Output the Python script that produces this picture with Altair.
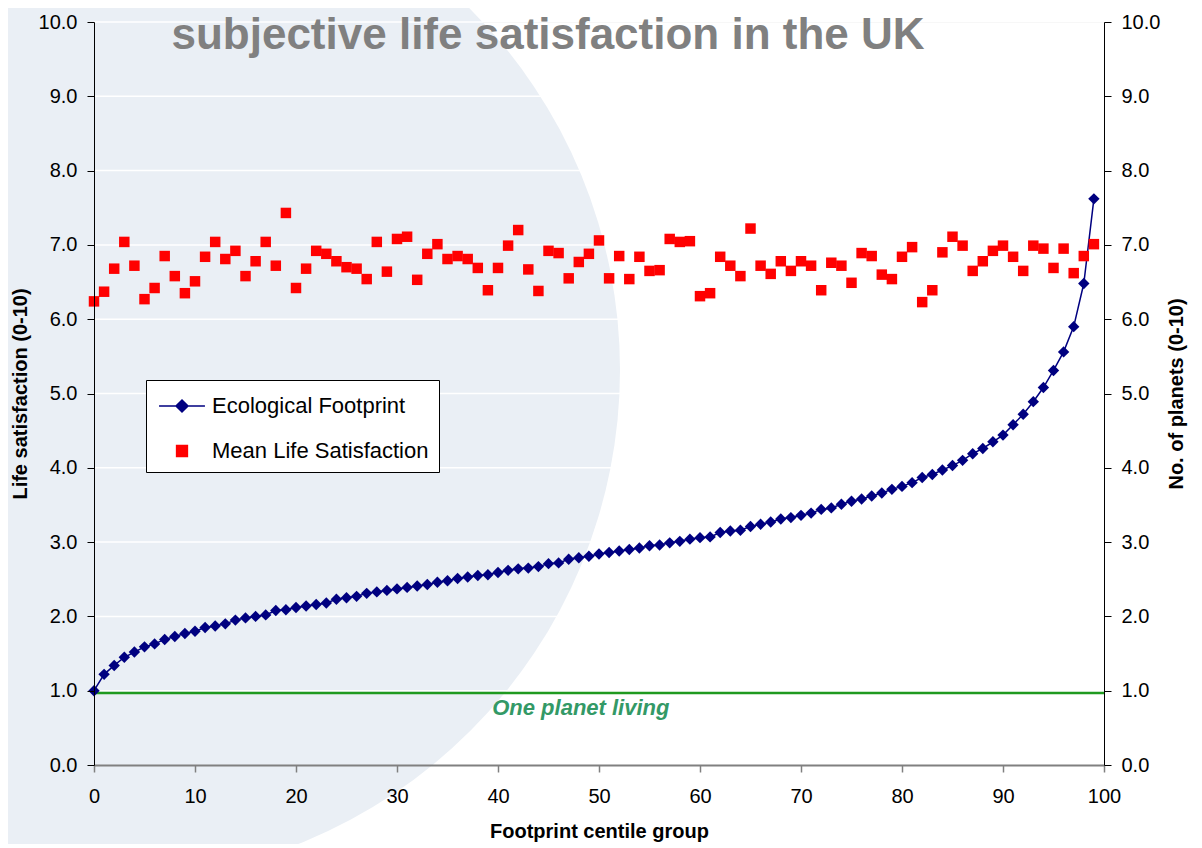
import altair as alt
import pandas as pd

# ---------------- data ----------------
centile = list(range(100))

life_satisfaction = [
    6.24, 6.37, 6.68, 7.04, 6.72, 6.27, 6.42, 6.85, 6.58, 6.35,
    6.51, 6.84, 7.04, 6.81, 6.92, 6.58, 6.78, 7.04, 6.72, 7.43,
    6.42, 6.68, 6.92, 6.88, 6.78, 6.70, 6.68, 6.54, 7.04, 6.64,
    7.08, 7.11, 6.53, 6.88, 7.01, 6.81, 6.85, 6.81, 6.69, 6.39,
    6.69, 6.99, 7.20, 6.67, 6.38, 6.92, 6.89, 6.55, 6.77, 6.88,
    7.06, 6.55, 6.85, 6.54, 6.84, 6.65, 6.66, 7.08, 7.04, 7.05,
    6.31, 6.35, 6.84, 6.72, 6.58, 7.22, 6.72, 6.61, 6.78, 6.65,
    6.78, 6.72, 6.39, 6.76, 6.72, 6.49, 6.89, 6.85, 6.60, 6.54,
    6.84, 6.97, 6.23, 6.39, 6.90, 7.11, 6.99, 6.65, 6.78, 6.92,
    6.99, 6.84, 6.65, 6.99, 6.95, 6.69, 6.95, 6.62, 6.85, 7.01,
]

ecological_footprint = [
    1.00, 1.22, 1.34, 1.45, 1.52, 1.59, 1.63, 1.69, 1.73, 1.77,
    1.80, 1.85, 1.87, 1.90, 1.95, 1.98, 2.00, 2.02, 2.08, 2.09,
    2.12, 2.14, 2.16, 2.18, 2.23, 2.25, 2.27, 2.31, 2.33, 2.35,
    2.37, 2.39, 2.41, 2.43, 2.46, 2.48, 2.51, 2.53, 2.55, 2.56,
    2.59, 2.62, 2.64, 2.65, 2.67, 2.71, 2.72, 2.77, 2.79, 2.81,
    2.84, 2.86, 2.88, 2.90, 2.92, 2.95, 2.96, 2.99, 3.01, 3.04,
    3.06, 3.07, 3.13, 3.15, 3.16, 3.21, 3.24, 3.27, 3.31, 3.33,
    3.36, 3.39, 3.44, 3.46, 3.51, 3.55, 3.58, 3.62, 3.66, 3.71,
    3.75, 3.80, 3.87, 3.91, 3.97, 4.03, 4.10, 4.19, 4.26, 4.35,
    4.44, 4.58, 4.72, 4.89, 5.08, 5.31, 5.56, 5.90, 6.48, 7.62,
]

y_ticks = [0, 1, 2, 3, 4, 5, 6, 7, 8, 9, 10]
grid_levels = [1, 2, 3, 4, 5, 6, 7, 8, 9, 10]
x_ticks = [0, 10, 20, 30, 40, 50, 60, 70, 80, 90, 100]

one_planet_level = [0.97]
annotation_x = [48.2]
annotation_y = [0.77]
annotation_text = ["One planet living"]

chart_title = ["subjective life satisfaction in the UK"]

series_names = ["Ecological Footprint", "Mean Life Satisfaction"]
series_colors = ["#000080", "#FF0000"]

# ---------------- styling ----------------
FONT = "Liberation Sans"
W, H = 1010, 743
NAVY = "#000080"
RED = "#FF0000"
SHADE = "#EAEFF5"

LINE_DIAMOND = "M-1.53,0L1.53,0M0,-0.4L0.4,0L0,0.4L-0.4,0Z"
SQUARE = "M-0.36,-0.36L0.36,-0.36L0.36,0.36L-0.36,0.36Z"

df = pd.DataFrame({"centile": centile, "sat": life_satisfaction, "fp": ecological_footprint})

xscale = alt.Scale(domain=[0, 100], nice=False, zero=True)


def yscale():
    return alt.Scale(domain=[0, 10], nice=False, zero=True)


x_axis = alt.Axis(
    values=x_ticks, title="Footprint centile group", grid=False, zindex=1,
    labelFont=FONT, labelFontSize=20, labelColor="black", labelFlush=False,
    titleFont=FONT, titleFontSize=20, titleFontWeight="bold", titleColor="black",
    domainColor="#808080", domainWidth=2, tickColor="#808080", tickWidth=1.5,
    tickSize=7, labelPadding=14, titlePadding=15,
)


def y_axis(orient, title, title_pad, angle):
    return alt.Axis(
        orient=orient, values=y_ticks, format=".1f", title=title, grid=False, zindex=1,
        labelFont=FONT, labelFontSize=20, labelColor="black",
        titleFont=FONT, titleFontSize=20, titleFontWeight="bold", titleColor="black",
        titleAngle=angle,
        domainColor="black", domainWidth=1, tickColor="black", tickWidth=1,
        tickSize=7, labelPadding=10, titlePadding=title_pad,
    )


# decorative background disc
shade = alt.Chart(alt.Data(values=[{"k": 1}])).mark_point(
    shape="circle", filled=True, size=1040400, color=SHADE, opacity=1, strokeWidth=0
).encode(x=alt.value(16), y=alt.value(348))

grid = alt.Chart(pd.DataFrame({"level": grid_levels})).mark_rule(
    color="white", strokeWidth=1.5
).encode(y=alt.Y("level:Q", scale=yscale(), axis=None))

green = alt.Chart(pd.DataFrame({"level": one_planet_level})).mark_rule(
    color="#1F9A1F", strokeWidth=2.5
).encode(y=alt.Y("level:Q", scale=yscale(), axis=None))

annot = alt.Chart(
    pd.DataFrame({"x": annotation_x, "y": annotation_y, "t": annotation_text})
).mark_text(
    font=FONT, fontSize=22, fontWeight="bold", fontStyle="italic",
    color="#339966", align="center", baseline="middle"
).encode(
    x=alt.X("x:Q", scale=xscale, axis=x_axis),
    y=alt.Y("y:Q", scale=yscale(), axis=None),
    text="t:N",
)

title_layer = alt.Chart(pd.DataFrame({"t": chart_title})).mark_text(
    font=FONT, fontSize=44, fontWeight="bold", color="#808080",
    align="center", baseline="alphabetic"
).encode(x=alt.value(454), y=alt.value(27), text="t:N")

blue = alt.Chart(df).mark_line(
    color=NAVY, strokeWidth=1.5,
    point=alt.OverlayMarkDef(shape="diamond", size=130, filled=True, color=NAVY, opacity=1),
).encode(
    x=alt.X("centile:Q", scale=xscale, axis=x_axis),
    y=alt.Y("fp:Q", scale=yscale(),
            axis=y_axis("right", "No. of planets (0-10)", 27, 270)),
)

red = alt.Chart(df).mark_square(size=110, color=RED, opacity=1).encode(
    x=alt.X("centile:Q", scale=xscale, axis=x_axis),
    y=alt.Y("sat:Q", scale=yscale(),
            axis=y_axis("left", "Life satisfaction (0-10)", 8, 270)),
)

leg_def = alt.Legend(
    title=None, orient="none", legendX=52, legendY=358,
    fillColor="white", strokeColor="black", padding=10,
    labelFont=FONT, labelFontSize=22, labelColor="black", labelLimit=400,
    symbolSize=900, symbolStrokeWidth=1.5, symbolOffset=10,
    rowPadding=18, labelOffset=14,
)

legend_layer = alt.Chart(pd.DataFrame({"series": series_names})).transform_filter(
    "false"
).mark_point(filled=True, opacity=1, strokeWidth=1.5).encode(
    shape=alt.Shape("series:N", scale=alt.Scale(domain=series_names, range=[LINE_DIAMOND, SQUARE]), legend=leg_def),
    fill=alt.Fill("series:N", scale=alt.Scale(domain=series_names, range=series_colors), legend=leg_def),
    stroke=alt.Stroke("series:N", scale=alt.Scale(domain=series_names, range=series_colors), legend=leg_def),
)

chart = alt.layer(
    shade, grid, green, annot, blue, red, title_layer, legend_layer
).resolve_scale(
    y="independent"
).properties(
    width=W, height=H,
    autosize=alt.AutoSizeParams(type="none"),
    padding={"left": 86, "top": 14, "right": 90, "bottom": 79},
).configure_view(stroke=None).configure(background="white")

chart.save("out.html", embed_options={"renderer": "svg", "actions": False})
